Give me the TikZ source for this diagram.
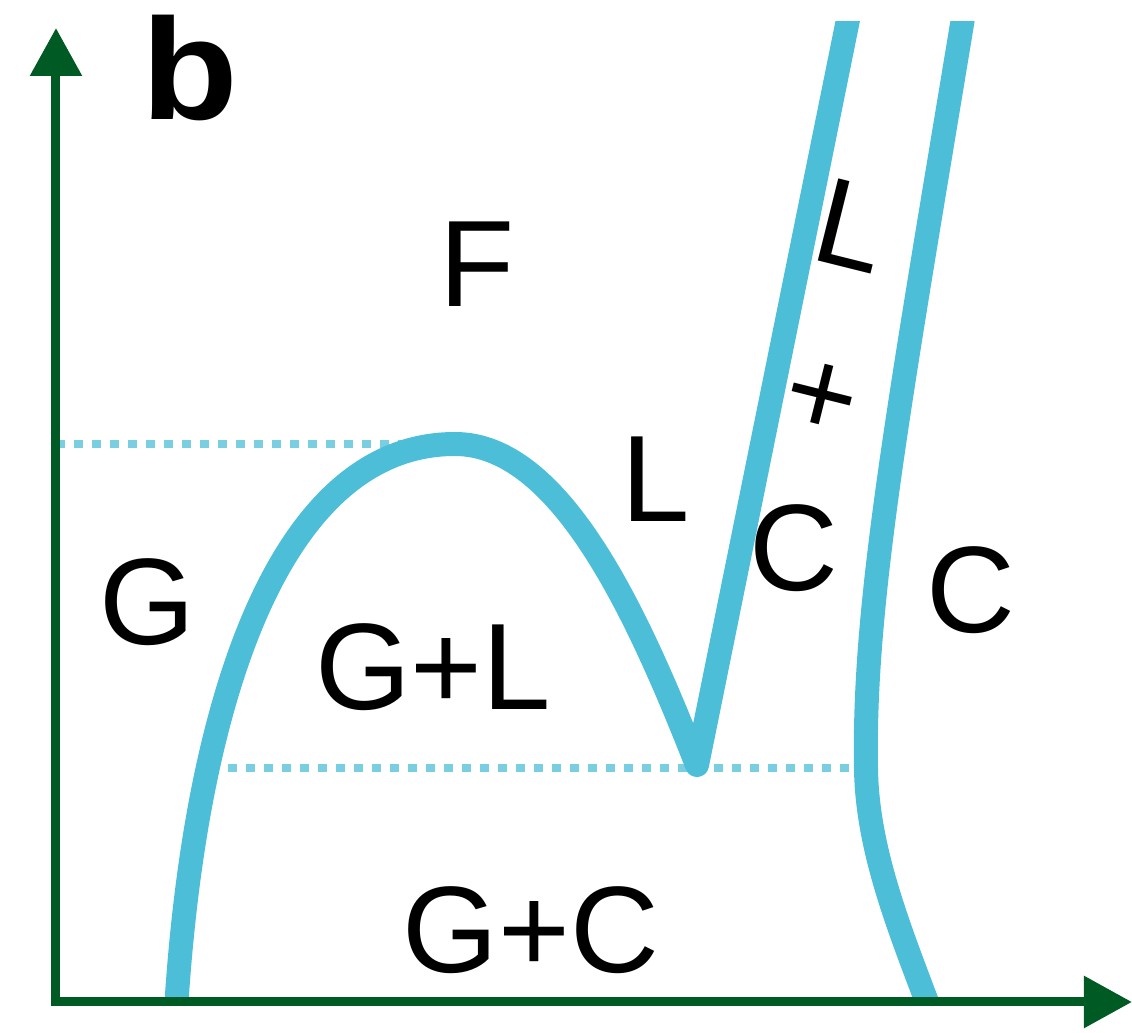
\documentclass[tikz,border=0pt]{standalone}
\usepackage{fontspec}
\setmainfont{Liberation Sans}
\usetikzlibrary{arrows.meta}
\definecolor{axisgreen}{RGB}{0,90,35}
\definecolor{phaseblue}{RGB}{77,190,216}

\begin{document}
\begin{tikzpicture}[
  x=0.1mm, y=-0.1mm,
  every node/.style={font=\fontsize{35}{42}\selectfont, inner sep=0pt},
  axis/.style={draw=axisgreen, line width=0.9mm, line cap=rect, -{Triangle[length=4.8mm, width=5mm]}},
  phase/.style={draw=phaseblue, line width=2.4mm, line join=round},
  tie/.style={draw=phaseblue!75, line width=0.75mm, dash pattern=on 0.9mm off 0.9mm},
  tag/.style={font=\fontsize{41}{48}\selectfont\bfseries, xscale=1.1}
]
\useasboundingbox (0,0) rectangle (1132,1033);
% axes
\coordinate (o) at (56,1002);
\coordinate (ytip) at (56,28);
\coordinate (xtip) at (1132,1002);
% key points of the diagram
\coordinate (crit) at (455,444);
\coordinate (eut) at (697,765);
\coordinate (left) at (210,768);
\coordinate (right) at (866,768);
\coordinate (ltop) at (852,0);
% tie lines
\draw[tie] (o |- crit) -- ([xshift=-3mm]crit);
\draw[tie] (left) -- (right);
% phase boundaries
\begin{scope}
  \clip (0,22) rectangle (1132,1003);
  \draw[phase] (176,1010) .. controls (195,700) and (280,444) .. (crit)
    .. controls (560,444) and (637,612) .. (eut) -- (ltop);
  \draw[phase] (966,0) .. controls (900,400) and (863,600) .. (right)
    .. controls (867,850) and (900,930) .. (930,1010);
\end{scope}
\draw[axis] (o) -- (ytip);
\draw[axis] (o) -- (xtip);
% labels
\node[tag] (b) at (190,68) {b};
\node (f) at (477,264) {F};
\node (l) at (656,479) {L};
\node (g) at (147,602) {G};
\node (gl) at (433,667) {G+L};
\node (gc) at (531,930) {G+C};
\node (c1) at (794,548) {C};
\node (c2) at (971,590) {C};
\node[rotate=-14] (l2) at (852,226) {L};
\node[rotate=-14] (plus) at (821,400) {+};
\end{tikzpicture}
\end{document}
